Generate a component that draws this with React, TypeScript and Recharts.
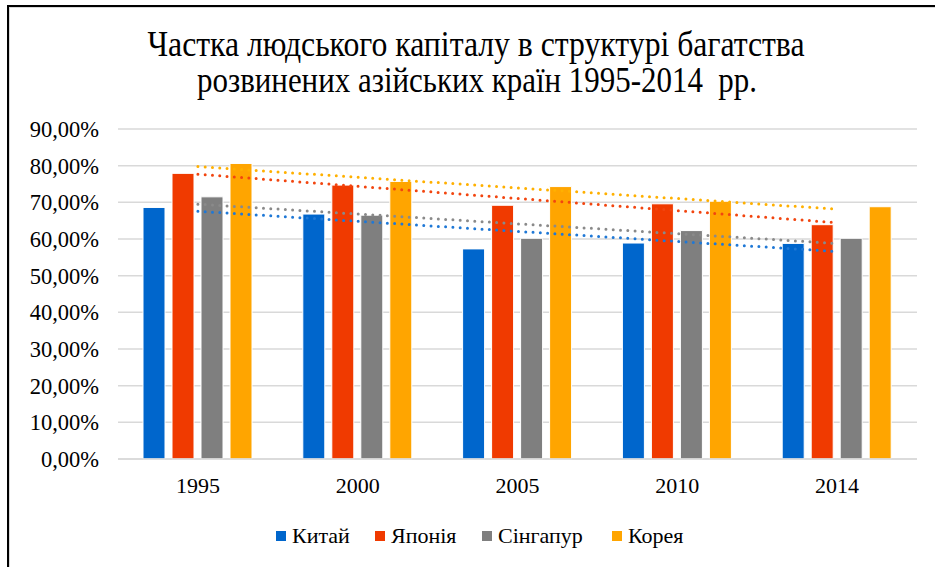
import React from 'react';
import { ComposedChart, Bar, Line, XAxis, YAxis, CartesianGrid } from 'recharts';

const years = ['1995', '2000', '2005', '2010', '2014'];
const china = [68.6, 66.8, 57.3, 58.9, 58.8];
const japan = [77.9, 74.7, 69.2, 69.6, 63.9];
const singapore = [71.5, 66.5, 60.2, 62.3, 60.2];
const korea = [80.6, 75.7, 74.3, 70.3, 68.8];
const yTicks = [0, 10, 20, 30, 40, 50, 60, 70, 80, 90];
const titleLines = ['Частка людського капіталу в структурі багатства', 'розвинених азійських країн 1995-2014  рр.'];

const seriesNames = ['Китай', 'Японія', 'Сінгапур', 'Корея'];
const seriesKeys = ['china', 'japan', 'singapore', 'korea'];
const seriesValues = [china, japan, singapore, korea];
const colors = ['#0066CC', '#F03A00', '#7F7F7F', '#FFA500'];
const trendColors = ['#1F78D6', '#F2450F', '#8A8A8A', '#FFB000'];

function trend(vals: number[]): number[] {
  const n = vals.length;
  const xs = vals.map((_, i) => i + 1);
  const mx = xs.reduce((a, b) => a + b, 0) / n;
  const my = vals.reduce((a, b) => a + b, 0) / n;
  let num = 0;
  let den = 0;
  for (let i = 0; i < n; i++) {
    num += (xs[i] - mx) * (vals[i] - my);
    den += (xs[i] - mx) * (xs[i] - mx);
  }
  const slope = num / den;
  return xs.map((x) => my + slope * (x - mx));
}

const trends = seriesValues.map(trend);

const data = years.map((y, i) => {
  const row: Record<string, any> = { year: y };
  seriesKeys.forEach((k, s) => {
    row[k] = seriesValues[s][i];
    row[k + 'Trend'] = trends[s][i];
  });
  return row;
});

const fmt = (v: number) => v.toFixed(2).replace('.', ',') + '%';
const FONT = '"Liberation Serif", "Times New Roman", serif';

export default function App() {
  return (
    <div style={{ position: 'absolute', left: 0, top: 0, width: 935, height: 567, background: '#fff', overflow: 'hidden', fontFamily: FONT }}>
      <div style={{ position: 'absolute', left: 7, top: 5, width: 1000, height: 1000, borderLeft: '2px solid #000', borderTop: '2px solid #000' }} />
      <div style={{ position: 'absolute', left: 9, top: 7, width: 1000, height: 1000, borderLeft: '1px solid #d9d9d9', borderTop: '1px solid #d9d9d9' }} />
      <svg style={{ position: 'absolute', left: 0, top: 0 }} width={935} height={110}>
        <text x={476} y={56} textAnchor="middle" fontFamily={FONT} fontSize={35} fill="#000" textLength={657} lengthAdjust="spacingAndGlyphs" style={{ whiteSpace: 'pre' }}>{titleLines[0]}</text>
        <text x={477} y={92} textAnchor="middle" fontFamily={FONT} fontSize={35} fill="#000" textLength={560} lengthAdjust="spacingAndGlyphs" style={{ whiteSpace: 'pre' }}>{titleLines[1]}</text>
      </svg>
      <div style={{ position: 'absolute', left: 0, top: 0 }}>
        <ComposedChart width={935} height={567} data={data} margin={{ top: 129, right: 18, bottom: 78, left: 18 }} barSize={22} barGap={7}>
          <CartesianGrid vertical={false} stroke="#d9d9d9" strokeWidth={1.5} />
          <XAxis dataKey="year" height={30} tickLine={false} axisLine={{ stroke: '#d9d9d9', strokeWidth: 1.5 }} tick={{ fill: '#000', fontSize: 22, fontFamily: FONT }} tickMargin={12} />
          <YAxis width={100} domain={[0, 90]} ticks={yTicks} tickFormatter={fmt} axisLine={false} tickLine={false} tickMargin={13} tick={{ fill: '#000', fontSize: 22.5, fontFamily: FONT }} />
          {seriesKeys.map((k, s) => (
            <Bar key={k} dataKey={k} fill={colors[s]} stroke="#fff" strokeWidth={1} isAnimationActive={false} />
          ))}
          {seriesKeys.map((k, s) => (
            <Line key={k + 'T'} type="linear" dataKey={k + 'Trend'} stroke={trendColors[s]} strokeWidth={3} strokeDasharray="0 7.3" strokeLinecap="round" dot={false} activeDot={false} isAnimationActive={false} />
          ))}
        </ComposedChart>
      </div>
      <div style={{ position: 'absolute', left: 0, top: 523, width: 935, height: 26 }}>
        {seriesNames.map((n, s) => {
          const lefts = [276, 375, 482, 612];
          return (
            <div key={n} style={{ position: 'absolute', left: lefts[s], top: 0, height: 26, display: 'flex', alignItems: 'center', whiteSpace: 'nowrap' }}>
              <span style={{ display: 'inline-block', width: 10, height: 10, background: colors[s], marginRight: 6 }} />
              <span style={{ fontSize: 22, color: '#000', fontFamily: FONT }}>{n}</span>
            </div>
          );
        })}
      </div>
    </div>
  );
}
